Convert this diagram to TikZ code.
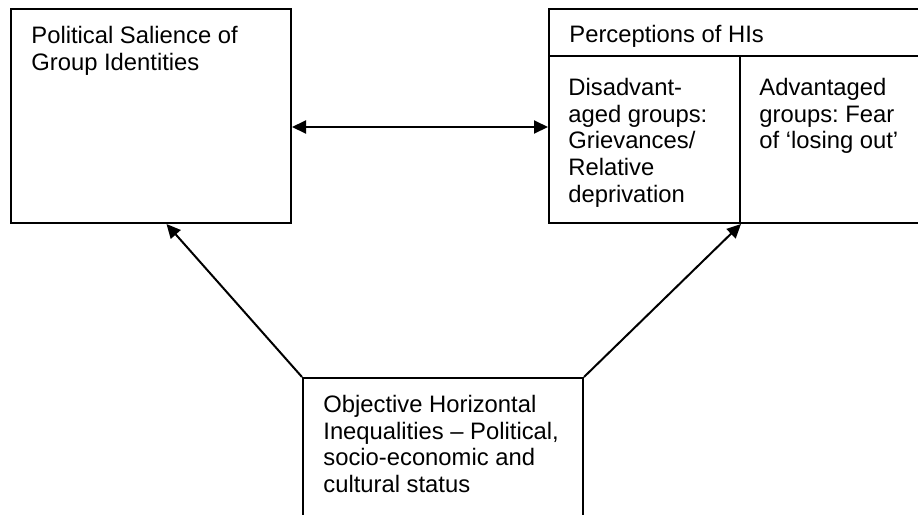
\documentclass[tikz,border=0pt]{standalone}
\usepackage{fontspec}
\setmainfont{Liberation Sans}
\frenchspacing
\usetikzlibrary{arrows.meta,calc}
\begin{document}
\begin{tikzpicture}[x=0.5pt,y=-0.5pt,
	box/.style={draw, line width=1pt, inner sep=0pt, anchor=north west},
	txt/.style={inner sep=0pt, anchor=north west, align=left, font=\fontsize{11.9pt}{13.3pt}\selectfont},
	arr/.style={line width=1pt, -{Triangle[length=7pt,width=6.5pt]}}
]
\clip (0,0) rectangle (918,515);

\node[box, minimum width=140pt, minimum height=107pt] (sal) at (10,8) {};
\node[box, minimum width=191pt, minimum height=23.5pt] (perc) at (548,8) {};
\node[box, minimum width=95.5pt, minimum height=83.5pt] (disadv) at (548,55) {};
\node[box, minimum width=95.5pt, minimum height=83.5pt] (adv) at (739,55) {};
\node[box, minimum width=140pt, minimum height=76.5pt] (hi) at (302,377) {};

\node[txt] (salT) at ($(sal.north west)+(21,18)$) {Political Salience of\\Group Identities};
\node[txt] (percT) at ($(perc.north west)+(21,17)$) {Perceptions of HIs};
\node[txt] (disadvT) at ($(disadv.north west)+(20,23)$) {Disadvant-\\aged groups:\\Grievances/\\Relative\\deprivation};
\node[txt] (advT) at ($(adv.north west)+(20,23)$) {Advantaged\\groups: Fear\\of `losing out'};
\node[txt] (hiT) at ($(hi.north west)+(21,18)$) {Objective Horizontal\\Inequalities -- Political,\\socio-economic and\\cultural status};

\coordinate (mid) at (419,127);
\draw[arr, {Triangle[length=7pt,width=6.5pt]}-{Triangle[length=7pt,width=6.5pt]}]
(sal.east |- mid) -- (disadv.west |- mid);
\draw[arr] (hi.north west) -- ($(sal.south west)!0.555!(sal.south east)$);
\draw[arr] (hi.north east) -- (disadv.south east);

\end{tikzpicture}
\end{document}
